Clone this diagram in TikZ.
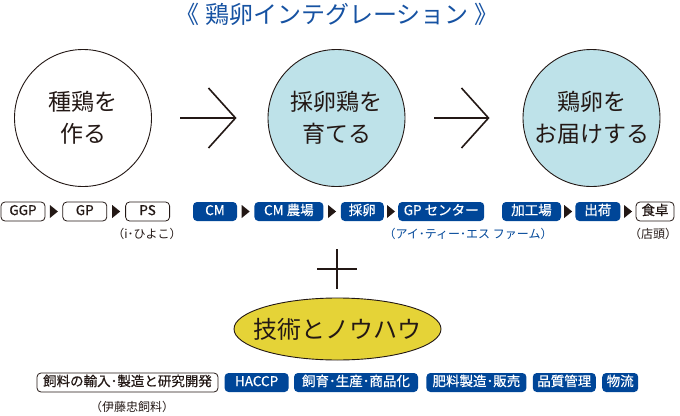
\documentclass[tikz,border=0pt]{standalone}
\usepackage{fontspec}
\setmainfont{Noto Sans CJK JP}
\newfontfamily\boxfont[FakeBold=0.6]{Noto Sans CJK JP}
\usetikzlibrary{arrows.meta,positioning,calc}
\definecolor{eggblue}{RGB}{0,70,152}
\definecolor{titleblue}{RGB}{22,82,162}
\definecolor{stageblue}{RGB}{190,226,233}
\definecolor{knowhowyellow}{RGB}{229,211,55}
\definecolor{inkgray}{RGB}{35,24,21}
\tikzset{
  stage circle/.style={
    circle, draw=inkgray, line width=0.9pt, minimum size=137pt,
    inner sep=0pt, align=center, text=inkgray,
    font=\fontsize{23}{32}\selectfont
  },
  stage arrow/.style={-{Straight Barb[length=27pt,width=60pt]}, line width=1.6pt, inkgray},
  flow box/.style={
    rectangle, rounded corners=4pt, minimum height=19pt, inner sep=0pt,
    text height=0.86em, text depth=0.14em, font=\boxfont\fontsize{13.5}{13.5}\selectfont
  },
  white box/.style={flow box, draw=inkgray, line width=0.8pt, fill=white, text=inkgray},
  blue box/.style={flow box, fill=eggblue, text=white},
  flow note/.style={inner sep=0pt, text height=0.86em, text depth=0.14em,
    font=\fontsize{12}{12}\selectfont, text=inkgray}
}
% small black triangle between two boxes of a row
\newcommand{\flowmark}[2]{%
  \fill[inkgray] ($(#1.east)!0.5!(#2.west)$) ++(-4,-6.5) -- ++(8,6.5) -- ++(-8,6.5) -- cycle;}

\begin{document}
\begin{tikzpicture}[x=1pt,y=-1pt]
  \useasboundingbox (0,0) rectangle (680,415);
  \node[text=titleblue, font=\fontsize{24}{24}\selectfont] (title) at (337,14)
    {《\ 鶏卵インテグレーション\ 》};

  % the three stages
  \node[stage circle, fill=white] (breed) at (83,118) {種鶏を\\作る};
  \node[stage circle, fill=stageblue] (raise) at (336.5,118) {採卵鶏を\\育てる};
  \node[stage circle, fill=stageblue] (deliver) at (591.5,118) {鶏卵を\\お届けする};
  \draw[stage arrow, shorten <=28.5pt, shorten >=31pt] (breed) -- (raise);
  \draw[stage arrow, shorten <=29pt, shorten >=33pt] (raise) -- (deliver);

  % chain of each stage
  \node[white box, minimum width=44pt] (ggp) at (23,211.5) {GGP};
  \node[white box, minimum width=44pt, right=17pt of ggp] (gp) {GP};
  \node[white box, minimum width=44pt, right=18pt of gp] (ps) {PS};
  \node[blue box, minimum width=44pt] (cm) at (215,211.5) {CM};
  \node[blue box, minimum width=69pt, right=17pt of cm] (cmfarm) {CM 農場};
  \node[blue box, minimum width=43pt, right=17pt of cmfarm] (laying) {採卵};
  \node[blue box, minimum width=86pt, right=14pt of laying] (gpcenter) {GP センター};
  \node[blue box, minimum width=59pt] (plant) at (531.5,211.5) {加工場};
  \node[blue box, minimum width=45pt, right=14pt of plant] (shipping) {出荷};
  \node[white box, minimum width=38pt, right=15pt of shipping] (table) {食卓};
  \flowmark{ggp}{gp}
  \flowmark{gp}{ps}
  \flowmark{cm}{cmfarm}
  \flowmark{cmfarm}{laying}
  \flowmark{laying}{gpcenter}
  \flowmark{plant}{shipping}
  \flowmark{shipping}{table}

  \node[flow note] (chick) at (147,235) {（i･ひよこ）};
  \node[flow note, text=eggblue] (itsfarm) at (468,235) {（アイ･ティー･エス ファーム）};
  \node[flow note] (shop) at (653,235) {（店頭）};

  % plus and know-how
  \coordinate (plus) at (337,269);
  \draw[inkgray, line width=1.3pt] (plus) +(-20,0) -- +(20,0) (plus) +(0,-20) -- +(0,20);
  \coordinate (knowhow centre) at (337.5,329);
  \draw[inkgray, line width=0.9pt, fill=knowhowyellow] (knowhow centre)
    ellipse [x radius=103.5, y radius=31];
  \node[text=inkgray, font=\fontsize{24}{24}\selectfont] (knowhow) at (knowhow centre) {技術とノウハウ};

  \node[white box, minimum width=181pt] (feed) at (127.5,382.5) {飼料の輸入･製造と研究開発};
  \node[blue box, minimum width=64pt, right=6pt of feed] (haccp) {HACCP};
  \node[blue box, minimum width=124pt, right=5pt of haccp] (rearing) {飼育･生産･商品化};
  \node[blue box, minimum width=100pt, right=8pt of rearing] (fertilizer) {肥料製造･販売};
  \node[blue box, minimum width=63pt, right=6pt of fertilizer] (quality) {品質管理};
  \node[blue box, minimum width=36pt, right=6pt of quality] (logistics) {物流};
  \node[flow note] (itochu) at (132,408) {（伊藤忠飼料）};
\end{tikzpicture}
\end{document}
